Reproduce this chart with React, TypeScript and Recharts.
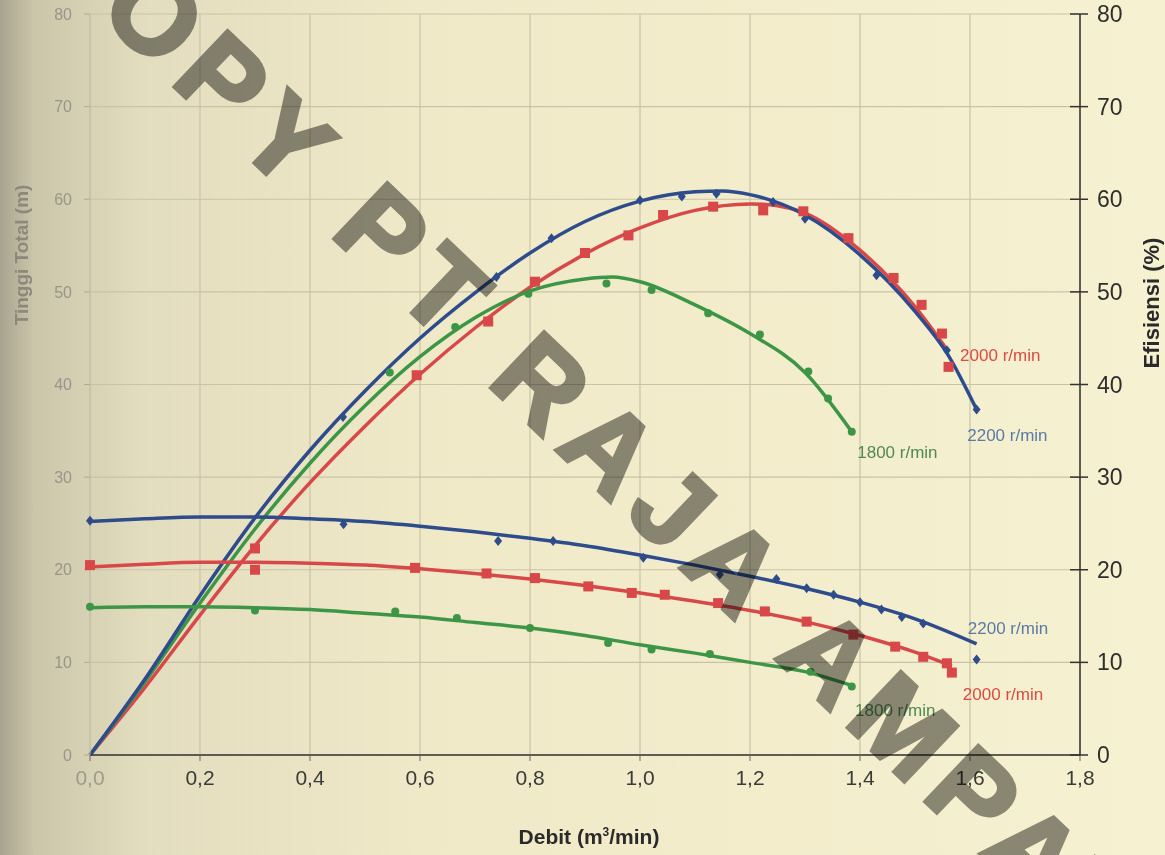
import { ComposedChart, Line, Scatter, XAxis, YAxis, CartesianGrid, ReferenceDot } from 'recharts'

// Debit (m3/min) ticks and 0..80 scale shared by both vertical axes
const X_TICKS = [0, 0.2, 0.4, 0.6, 0.8, 1.0, 1.2, 1.4, 1.6, 1.8]
const Y_TICKS = [0, 10, 20, 30, 40, 50, 60, 70, 80]

// Efisiensi (%) - fitted curves and measured points, [debit, value]
const eff2200Curve = [[0, 0], [0.1, 8.2], [0.2, 17.2], [0.3, 25.6], [0.4, 32.9], [0.5, 39.3], [0.6, 45], [0.7, 49.9], [0.8, 54.2], [0.9, 57.6], [1.0, 59.8], [1.1, 60.8], [1.15, 60.9], [1.2, 60.5], [1.3, 58.3], [1.4, 54.0], [1.5, 47.9], [1.56, 43.2], [1.612, 37.3]]
const eff2200Marks = [[0.46, 36.5], [0.739, 51.6], [0.839, 55.8], [1.0, 59.9], [1.076, 60.3], [1.139, 60.6], [1.242, 59.7], [1.3, 57.9], [1.43, 51.8], [1.558, 43.7], [1.612, 37.3]]

const eff2000Curve = [[0, 0], [0.1, 7.3], [0.2, 15.1], [0.3, 22.6], [0.4, 29.4], [0.5, 35.5], [0.6, 41.1], [0.7, 46.1], [0.8, 50.5], [0.9, 54.1], [1.0, 56.9], [1.1, 58.8], [1.2, 59.5], [1.25, 59.3], [1.3, 58.5], [1.4, 54.5], [1.5, 48.4], [1.56, 43.6]]
const eff2000Marks = [[0.3, 22.3], [0.594, 41.0], [0.724, 46.8], [0.809, 51.1], [0.9, 54.2], [0.979, 56.1], [1.042, 58.3], [1.133, 59.2], [1.224, 58.8], [1.297, 58.7], [1.379, 55.8], [1.461, 51.5], [1.512, 48.6], [1.549, 45.5], [1.561, 41.9]]

const eff1800Curve = [[0, 0], [0.1, 7.9], [0.2, 16.4], [0.3, 24.4], [0.4, 31.5], [0.5, 37.7], [0.6, 43.0], [0.7, 47.2], [0.8, 50.1], [0.9, 51.4], [0.95, 51.6], [1.0, 51.1], [1.1, 48.6], [1.2, 45.5], [1.3, 41.3], [1.385, 34.9]]
const eff1800Marks = [[0.545, 41.3], [0.664, 46.2], [0.797, 49.8], [0.939, 50.9], [1.021, 50.2], [1.124, 47.7], [1.218, 45.4], [1.306, 41.4], [1.342, 38.5], [1.385, 34.9]]

// Tinggi Total (m)
const head2200Curve = [[0, 25.2], [0.1, 25.5], [0.2, 25.7], [0.3, 25.7], [0.4, 25.5], [0.5, 25.2], [0.6, 24.7], [0.7, 24.1], [0.8, 23.4], [0.9, 22.6], [1.0, 21.6], [1.1, 20.5], [1.2, 19.3], [1.3, 18.0], [1.4, 16.5], [1.5, 14.7], [1.612, 12.0]]
const head2200Marks = [[0, 25.3], [0.461, 24.9], [0.742, 23.1], [0.842, 23.1], [1.006, 21.3], [1.145, 19.5], [1.248, 19.0], [1.303, 18.0], [1.352, 17.3], [1.4, 16.5], [1.439, 15.7], [1.476, 14.9], [1.515, 14.2], [1.612, 10.3]]

const head2000Curve = [[0, 20.3], [0.1, 20.6], [0.2, 20.8], [0.3, 20.8], [0.4, 20.7], [0.5, 20.5], [0.6, 20.1], [0.7, 19.6], [0.8, 19.0], [0.9, 18.3], [1.0, 17.5], [1.1, 16.6], [1.2, 15.6], [1.3, 14.4], [1.4, 12.9], [1.5, 11.1], [1.567, 9.6]]
const head2000Marks = [[0, 20.5], [0.3, 20.0], [0.591, 20.2], [0.721, 19.6], [0.809, 19.1], [0.906, 18.2], [0.985, 17.5], [1.045, 17.3], [1.142, 16.4], [1.227, 15.5], [1.303, 14.4], [1.388, 13.0], [1.464, 11.7], [1.515, 10.6], [1.558, 9.9], [1.567, 8.9]]

const head1800Curve = [[0, 15.9], [0.1, 16.0], [0.2, 16.0], [0.3, 15.9], [0.4, 15.7], [0.5, 15.3], [0.6, 14.9], [0.7, 14.3], [0.8, 13.7], [0.9, 12.9], [1.0, 11.9], [1.1, 11.0], [1.2, 10.0], [1.3, 9.0], [1.385, 7.5]]
const head1800Marks = [[0, 16.0], [0.3, 15.6], [0.555, 15.5], [0.667, 14.8], [0.8, 13.7], [0.942, 12.1], [1.021, 11.4], [1.127, 10.9], [1.31, 9.0], [1.385, 7.4]]

const SERIES_LABELS = [
  { text: '2000 r/min', q: 1.582, v: 43.2, speed: 2000 },
  { text: '2200 r/min', q: 1.595, v: 34.5, speed: 2200 },
  { text: '1800 r/min', q: 1.395, v: 32.7, speed: 1800 },
  { text: '2200 r/min', q: 1.596, v: 13.7, speed: 2200 },
  { text: '2000 r/min', q: 1.587, v: 6.6, speed: 2000 },
  { text: '1800 r/min', q: 1.391, v: 4.9, speed: 1800 },
]

const LINE = { 2200: '#2e4b8c', 2000: '#d84848', 1800: '#3d9646' } as Record<number, string>
const TEXT = { 2200: '#5a7ba6', 2000: '#dc4a43', 1800: '#4f8a50' } as Record<number, string>
const FONT = '"Liberation Sans", Arial, sans-serif'

const pts = (arr: number[][]) => arr.map(([q, v]) => ({ q, v }))

const square = (color: string) => (p: any) => (
  <rect x={p.cx - 5} y={p.cy - 5} width={10} height={10} fill={color} />
)
const diamond = (color: string) => (p: any) => (
  <polygon points={`${p.cx},${p.cy - 5} ${p.cx + 4},${p.cy} ${p.cx},${p.cy + 5} ${p.cx - 4},${p.cy}`} fill={color} />
)
const dot = (color: string) => (p: any) => <circle cx={p.cx} cy={p.cy} r={4} fill={color} />

function RightTick({ x, y, payload }: any) {
  return (
    <g>
      <line x1={x - 10} x2={x + 8} y1={y} y2={y} stroke="#333" strokeWidth={1.5} />
      <text x={x + 17} y={y} dy={8} fontSize={23} fill="#2e2e2e" fontFamily={FONT}>{payload.value}</text>
    </g>
  )
}

function XTick({ x, y, payload }: any) {
  const first = payload.value === 0
  return (
    <text x={x} y={y} dy={14} textAnchor="middle" fontSize={21} fontFamily={FONT}
      fill={first ? '#9f9b8c' : '#3a3a3a'}>
      {first ? '0,0' : payload.value.toFixed(1).replace('.', ',')}
    </text>
  )
}

export default function App() {
  const curves = [
    { data: eff2000Curve, axis: 'right', s: 2000 },
    { data: eff1800Curve, axis: 'right', s: 1800 },
    { data: eff2200Curve, axis: 'right', s: 2200 },
    { data: head2000Curve, axis: 'left', s: 2000 },
    { data: head1800Curve, axis: 'left', s: 1800 },
    { data: head2200Curve, axis: 'left', s: 2200 },
  ]
  const marks = [
    { data: eff2200Marks, axis: 'right', shape: diamond(LINE[2200]) },
    { data: eff1800Marks, axis: 'right', shape: dot(LINE[1800]) },
    { data: eff2000Marks, axis: 'right', shape: square(LINE[2000]) },
    { data: head2200Marks, axis: 'left', shape: diamond(LINE[2200]) },
    { data: head1800Marks, axis: 'left', shape: dot(LINE[1800]) },
    { data: head2000Marks, axis: 'left', shape: square(LINE[2000]) },
  ]

  return (
    <div style={{
      position: 'absolute', left: 0, top: 0, width: 1165, height: 855, overflow: 'hidden',
      background: 'linear-gradient(90deg, #a9a48f 0px, #cbc5aa 35px, #e3ddbf 140px, #efe9c8 420px, #f6f1d0 100%)',
      fontFamily: FONT,
    }}>
      <ComposedChart width={1165} height={855} margin={{ top: 14, right: 0, bottom: 40, left: 50 }}>
        <CartesianGrid yAxisId="left" stroke="#c9c3a6" strokeWidth={1.2} />
        <XAxis
          dataKey="q"
          type="number"
          domain={[0, 1.8]}
          ticks={X_TICKS}
          height={60}
          tick={<XTick />}
          tickSize={6}
          tickMargin={10}
          tickLine={{ stroke: '#666' }}
          axisLine={{ stroke: '#333', strokeWidth: 1.5 }}
        />
        <YAxis
          yAxisId="left"
          dataKey="v"
          orientation="left"
          domain={[0, 80]}
          ticks={Y_TICKS}
          width={40}
          tickSize={6}
          tickMargin={12}
          tick={{ fill: '#99958a', fontSize: 16, fontFamily: FONT }}
          tickLine={{ stroke: '#b0aa93' }}
          axisLine={{ stroke: '#c4bea3' }}
        />
        <YAxis
          yAxisId="right"
          dataKey="v"
          orientation="right"
          domain={[0, 80]}
          ticks={Y_TICKS}
          width={85}
          tickSize={0}
          tickMargin={0}
          tick={<RightTick />}
          tickLine={false}
          axisLine={{ stroke: '#333', strokeWidth: 1.5 }}
        />
        {curves.map((c, i) => (
          <Line
            key={`c${i}`}
            yAxisId={c.axis}
            data={pts(c.data)}
            dataKey="v"
            type="monotone"
            stroke={LINE[c.s]}
            strokeWidth={3.5}
            dot={false}
            activeDot={false}
            isAnimationActive={false}
          />
        ))}
        {marks.map((m, i) => (
          <Scatter
            key={`m${i}`}
            yAxisId={m.axis}
            data={pts(m.data)}
            dataKey="v"
            shape={m.shape}
            isAnimationActive={false}
          />
        ))}
        {SERIES_LABELS.map((l, i) => (
          <ReferenceDot
            key={`l${i}`}
            yAxisId="right"
            x={l.q}
            y={l.v}
            r={0}
            ifOverflow="visible"
            shape={(p: any) => (
              <text x={p.cx} y={p.cy} dy={6} fontSize={17} fill={TEXT[l.speed]} fontFamily={FONT}>{l.text}</text>
            )}
          />
        ))}
      </ComposedChart>

      <div style={{ position: 'absolute', left: 589, top: 837, transform: 'translate(-50%, -50%)', fontWeight: 'bold', fontSize: 21, color: '#2a2a2a', whiteSpace: 'nowrap' }}>
        Debit (m<sup style={{ fontSize: 12 }}>3</sup>/min)
      </div>
      <div style={{ position: 'absolute', left: 1152, top: 303, transform: 'translate(-50%, -50%) rotate(-90deg)', fontWeight: 'bold', fontSize: 22, color: '#2a2a2a', whiteSpace: 'nowrap' }}>
        Efisiensi (%)
      </div>
      <div style={{ position: 'absolute', left: 22, top: 255, transform: 'translate(-50%, -50%) rotate(-90deg)', fontWeight: 'bold', fontSize: 19, color: '#8c887c', whiteSpace: 'nowrap' }}>
        Tinggi Total (m)
      </div>
      <div style={{
        position: 'absolute', left: 590, top: 430, transform: 'translate(-50%, -50%) rotate(43.6deg)',
        fontWeight: 'bold', fontSize: 112, letterSpacing: 14, color: '#8f8f8d', mixBlendMode: 'multiply',
        WebkitTextStroke: '4px #8f8f8d', whiteSpace: 'nowrap', lineHeight: 1,
      }}>
        COPY PT RAJA AMPAT
      </div>
    </div>
  )
}
